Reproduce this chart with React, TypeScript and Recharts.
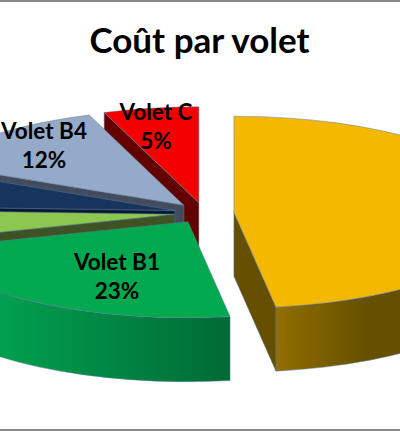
import React from "react";
import { PieChart, Pie } from "recharts";

const title = "Coût par volet";
// Counter-clockwise from 12 o'clock: back slices first so nearer ones paint over them.
const categories = ["Volet C", "Volet B4", "Volet B3", "Volet B2", "Volet B1", "Volet A"];
const costShares = [5.49, 12.36, 6.5, 5.3, 22.75, 47.6];
const labelled = ["Volet C", "Volet B4", "Volet B1"];

const chartData = categories.map((name, i) => ({ name, value: costShares[i] }));

const topColors: Record<string, string> = {
  "Volet C": "#F50000",
  "Volet B4": "#95A9C8",
  "Volet B3": "#17345C",
  "Volet B2": "#8CC74F",
  "Volet B1": "#00A94F",
  "Volet A": "#F4B800",
};
const sideColors: Record<string, string> = {
  "Volet C": "#630000",
  "Volet B4": "#434C5E",
  "Volet B3": "#091A33",
  "Volet B2": "#3E5223",
  "Volet B1": "#006A35",
  "Volet A": "#664F00",
};
const wallGradients: Record<string, [string, string, number, number]> = {
  "Volet B1": ["#00A04F", "#006A35", 0, 230],
  "Volet A": ["#916E00", "#665000", 277, 365],
};
const labelCentres: Record<string, [number, number]> = {
  "Volet C": [156, 113],
  "Volet B4": [44, 132],
  "Volet B1": [117, 263],
};

const CX = 204;
const CY = 213;
const RX = 280;
const SQUASH = 96 / 280;
const DEPTH = 64;
const EXPLODE = 30;
const EDGE = "#5B7A9B";
const rad = (d: number) => (d * Math.PI) / 180;

function Slice3D(props: any) {
  const { cx, cy, outerRadius, startAngle, endAngle, name, payload } = props;
  const key: string = name ?? payload?.name;
  const a = outerRadius;
  const b = a * SQUASH;
  const lo = Math.min(startAngle, endAngle);
  const hi = Math.max(startAngle, endAngle);
  const mid = (lo + hi) / 2;
  const ox = cx + EXPLODE * Math.cos(rad(mid));
  const oy = cy - EXPLODE * SQUASH * Math.sin(rad(mid));
  const pt = (deg: number, dy = 0): [number, number] => [
    ox + a * Math.cos(rad(deg)),
    oy - b * Math.sin(rad(deg)) + dy,
  ];
  const [sx, sy] = pt(lo);
  const [ex, ey] = pt(hi);
  const large = hi - lo > 180 ? 1 : 0;
  const top = `M${ox},${oy} L${sx},${sy} A${a},${b} 0 ${large} 0 ${ex},${ey} Z`;

  const face = (deg: number) => {
    const [px, py] = pt(deg);
    return `M${ox},${oy} L${px},${py} L${px},${py + DEPTH} L${ox},${oy + DEPTH} Z`;
  };
  const faces: number[] = [];
  if (Math.cos(rad(lo)) > 0.001) faces.push(lo);
  if (Math.cos(rad(hi)) < -0.001) faces.push(hi);

  // the curved wall only shows along the lower half of the ellipse
  const w0 = Math.max(lo, 180);
  const w1 = Math.min(hi, 360);
  let wall: string | null = null;
  if (w1 > w0) {
    const [ax, ay] = pt(w0);
    const [bx, by] = pt(w1);
    wall = `M${ax},${ay} A${a},${b} 0 0 0 ${bx},${by} L${bx},${by + DEPTH} A${a},${b} 0 0 1 ${ax},${ay + DEPTH} Z`;
  }
  const grad = wallGradients[key];
  const gradId = `wall-${key.replace(/\s/g, "")}`;
  return (
    <g>
      {grad && (
        <defs>
          <linearGradient id={gradId} gradientUnits="userSpaceOnUse" x1={grad[2]} x2={grad[3]} y1={0} y2={0}>
            <stop offset="0" stopColor={grad[0]} />
            <stop offset="1" stopColor={grad[1]} />
          </linearGradient>
        </defs>
      )}
      {faces.map((deg) => (
        <path key={deg} d={face(deg)} fill={sideColors[key]} stroke={EDGE} strokeWidth={0.5} />
      ))}
      {wall && (
        <path d={wall} fill={grad ? `url(#${gradId})` : sideColors[key]} stroke={EDGE} strokeWidth={0.5} />
      )}
      <path d={top} fill={topColors[key]} stroke={EDGE} strokeWidth={0.5} />
    </g>
  );
}

function SliceLabel(props: any) {
  const { name, percent } = props;
  if (!labelled.includes(name)) return null;
  const [x, y] = labelCentres[name];
  return (
    <text
      x={x}
      y={y}
      textAnchor="middle"
      fill="#000"
      stroke="none"
      fontFamily="Lato"
      fontWeight={700}
      fontSize={22.5}
    >
      <tspan x={x} dy={7}>{name}</tspan>
      <tspan x={x} dy={29}>{`${Math.round(percent * 100)}%`}</tspan>
    </text>
  );
}

export default function App() {
  return (
    <div style={{ position: "fixed", left: 0, top: 0, width: 400, height: 431, background: "#fff" }}>
      <PieChart width={400} height={431} margin={{ top: 0, right: 0, bottom: 0, left: 0 }}>
        <rect x={-5} y={1} width={410} height={429} fill="#fff" stroke="#888" strokeWidth={2} />
        <text x={199.5} y={53} textAnchor="middle" fontFamily="Lato" fontWeight={700} fontSize={35} fill="#000">
          {title}
        </text>
        <Pie
          data={chartData}
          dataKey="value"
          nameKey="name"
          cx={CX}
          cy={CY}
          innerRadius={0}
          outerRadius={RX}
          startAngle={90}
          endAngle={450}
          paddingAngle={0}
          stroke="none"
          isAnimationActive={false}
          labelLine={false}
          label={SliceLabel}
          shape={Slice3D}
          inactiveShape={Slice3D}
          activeShape={Slice3D}
        />
      </PieChart>
    </div>
  );
}
